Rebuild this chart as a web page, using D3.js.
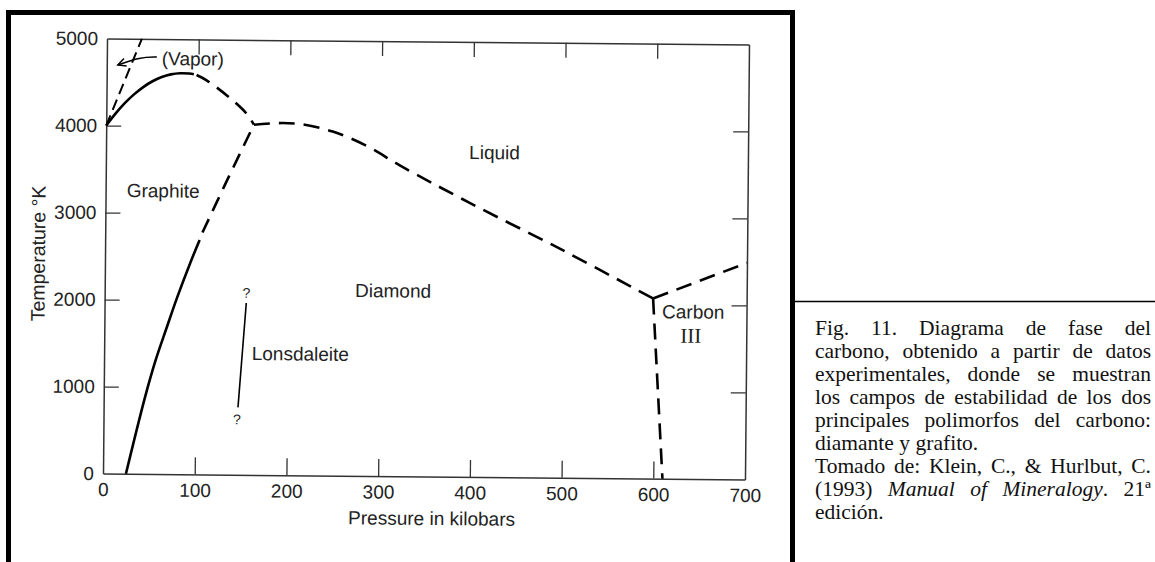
<!DOCTYPE html>
<html>
<head>
<meta charset="utf-8">
<script src="https://cdn.jsdelivr.net/npm/d3@7"></script>
<style>
  body { margin: 0; background: #fff; }
  svg { display: block; }
  .plot text { font-family: "Liberation Sans", Arial, sans-serif; fill: #222; }
  .caption text { font-family: "Liberation Serif", "Times New Roman", serif; font-size: 21.5px; fill: #111; }
</style>
</head>
<body>
<div id="chart"></div>
<script>
// Axis ticks
const xTicks = [0, 100, 200, 300, 400, 500, 600, 700];
const yTicks = [0, 1000, 2000, 3000, 4000, 5000];
const xInnerTicks = [100, 200, 300, 400, 500, 600];
const yInnerTicks = [1000, 2000, 3000, 4000];

// Phase boundaries as [pressure (kbar), temperature (K)]
const vaporBoundary = [[0, 4000], [38, 5000]];
const graphiteLiquid = [[0, 4000], [10, 4138], [20, 4259], [30, 4361], [40, 4446], [50, 4514], [60, 4563], [70, 4595], [80, 4609], [90, 4606], [95, 4598]];
const graphiteLiquidInferred = [[98, 4590], [109, 4530], [134, 4335], [153, 4150], [161, 4025]];
const graphiteDiamond = [[25, 0], [45, 880], [56, 1300], [68, 1685], [79, 2030], [93, 2430], [103, 2695]];
const graphiteDiamondInferred = [[106, 2780], [130, 3330], [161, 4025]];
const diamondLiquid = [[161, 4025], [186, 4046], [211, 4038], [247, 3955], [285, 3790], [321, 3570], [397, 3150], [500, 2610], [598, 2070]];
const diamondCarbonIII = [[598, 2070], [610, 0]];
const liquidCarbonIII = [[598, 2070], [700, 2490]];
const lonsdaleiteLine = [[154.5, 1975], [146.5, 775]];
const vaporArrow = [[54.5, 4793], [36, 4790], [12, 4697]];

// Field labels as [text, pressure, temperature]
const fieldLabels = [
  ["(Vapor)", 60, 4700],
  ["Graphite", 23, 3180],
  ["Liquid", 396, 3655],
  ["Diamond", 273, 2055],
  ["Lonsdaleite", 161, 1320],
  ["Carbon", 608, 1845]
];
const questionMarks = [[154.5, 2090], [145.6, 636]];
const carbonIIINumeral = ["III", 628, 1565];

// Caption, *word* = italic
const captionLines = [
  "Fig. 11. Diagrama de fase del",
  "carbono, obtenido a partir de datos",
  "experimentales, donde se muestran",
  "los campos de estabilidad de los dos",
  "principales polimorfos del carbono:",
  "diamante y grafito.",
  "Tomado de: Klein, C., & Hurlbut, C.",
  "(1993) *Manual* *of* *Mineralogy*. 21ª",
  "edición."
];
const captionRaggedLines = [5, 8];

const svg = d3.select("#chart").append("svg")
  .attr("width", 1155)
  .attr("height", 562);

// Scales
const x = d3.scaleLinear().domain([0, 700]).range([105, 747]);
const y = d3.scaleLinear().domain([0, 5000]).range([476.5, 41.5]);

// The scanned figure is tilted a little
const plot = svg.append("g")
  .attr("class", "plot")
  .attr("transform", "rotate(0.53, 426, 259)");

const axisColor = "#333";

function styleAxis(g) {
  g.attr("color", axisColor).attr("font-size", 19).attr("font-family", "Liberation Sans, Arial, sans-serif");
  g.select(".domain").attr("stroke-width", 1.5);
  g.selectAll(".tick line").attr("stroke-width", 1.3);
}

// Bottom axis
plot.append("g")
  .attr("transform", `translate(0,${y(0)})`)
  .call(d3.axisBottom(x).tickValues(xTicks).tickFormat(d3.format("d"))
    .tickSize(-17).tickSizeOuter(0).tickPadding(9))
  .call(styleAxis)
  .call(g => g.selectAll(".tick").filter(d => d === 0 || d === 700).select("line").remove());

// Left axis
plot.append("g")
  .attr("transform", `translate(${x(0)},0)`)
  .call(d3.axisLeft(y).tickValues(yTicks).tickFormat(d3.format("d"))
    .tickSize(-15).tickSizeOuter(0).tickPadding(9))
  .call(styleAxis)
  .call(g => g.selectAll(".tick").filter(d => d === 0 || d === 5000).select("line").remove());

// Top axis
plot.append("g")
  .attr("transform", `translate(0,${y(5000)})`)
  .call(d3.axisTop(x).tickValues(xInnerTicks).tickSize(-15).tickSizeOuter(0).tickFormat(""))
  .call(styleAxis);

// Right axis
plot.append("g")
  .attr("transform", `translate(${x(700)},0)`)
  .call(d3.axisRight(y).tickValues(yInnerTicks).tickSize(-15).tickSizeOuter(0).tickFormat(""))
  .call(styleAxis);

// Axis titles
plot.append("text")
  .attr("transform", "translate(45,257) rotate(-90)")
  .attr("text-anchor", "middle")
  .attr("font-size", 19.5)
  .text("Temperature °K");

plot.append("text")
  .attr("x", 434)
  .attr("y", 525)
  .attr("text-anchor", "middle")
  .attr("font-size", 19)
  .text("Pressure in kilobars");

// Boundaries
const smooth = d3.line().x(d => x(d[0])).y(d => y(d[1])).curve(d3.curveCatmullRom.alpha(0.5));
const straight = d3.line().x(d => x(d[0])).y(d => y(d[1]));

function boundary(data, gen, width, dash) {
  plot.append("path")
    .datum(data)
    .attr("d", gen)
    .attr("fill", "none")
    .attr("stroke", "#000")
    .attr("stroke-width", width)
    .attr("stroke-dasharray", dash);
}

boundary(vaporBoundary, straight, 2, "11 6");
boundary(graphiteLiquid, smooth, 2.6, null);
boundary(graphiteLiquidInferred, smooth, 2.6, "15 9");
boundary(graphiteDiamond, smooth, 2.6, null);
boundary(graphiteDiamondInferred, smooth, 2.6, "15 9");
boundary(diamondLiquid, smooth, 2.6, "16 9");
boundary(diamondCarbonIII, straight, 2.6, "16 9");
boundary(liquidCarbonIII, straight, 2.6, "16 9");
boundary(lonsdaleiteLine, straight, 1.6, null);

// Arrow pointing at the vapor boundary
svg.append("defs").append("marker")
  .attr("id", "arrowhead")
  .attr("viewBox", "-10 -6 12 12")
  .attr("refX", 0)
  .attr("refY", 0)
  .attr("markerUnits", "userSpaceOnUse")
  .attr("markerWidth", 12)
  .attr("markerHeight", 12)
  .attr("orient", "auto")
  .append("path")
    .attr("d", "M-8,-4 L0,0 L-8,4")
    .attr("fill", "none")
    .attr("stroke", "#000")
    .attr("stroke-width", 1.5);

plot.append("path")
  .datum(vaporArrow)
  .attr("d", d3.line().x(d => x(d[0])).y(d => y(d[1])).curve(d3.curveBasis))
  .attr("fill", "none")
  .attr("stroke", "#000")
  .attr("stroke-width", 1.5)
  .attr("marker-end", "url(#arrowhead)");

// Field labels
plot.selectAll(".field")
  .data(fieldLabels)
  .join("text")
    .attr("class", "field")
    .attr("x", d => x(d[1]))
    .attr("y", d => y(d[2]))
    .attr("font-size", 19)
    .text(d => d[0]);

plot.append("text")
  .attr("x", x(carbonIIINumeral[1]))
  .attr("y", y(carbonIIINumeral[2]))
  .attr("font-size", 21)
  .style("font-family", "Liberation Serif, serif")
  .text(carbonIIINumeral[0]);

plot.selectAll(".qmark")
  .data(questionMarks)
  .join("text")
    .attr("class", "qmark")
    .attr("x", d => x(d[0]))
    .attr("y", d => y(d[1]))
    .attr("text-anchor", "middle")
    .attr("dy", "0.35em")
    .attr("font-size", 14)
    .text("?");

// Frame and caption box
svg.append("path")
  .attr("d", "M8.5,562 V12.5 H792.5 V562")
  .attr("fill", "none")
  .attr("stroke", "#000")
  .attr("stroke-width", 5);

svg.append("line")
  .attr("x1", 795).attr("x2", 1155)
  .attr("y1", 301.5).attr("y2", 301.5)
  .attr("stroke", "#000")
  .attr("stroke-width", 1.5);

// Caption, justified
const caption = svg.append("g").attr("class", "caption");
const capLeft = 815, capRight = 1151, capTop = 335, capStep = 23;

captionLines.forEach((line, i) => {
  const words = line.split(" ");
  const nodes = words.map(w => {
    const t = caption.append("text").attr("y", capTop + i * capStep);
    w.split("*").forEach((run, k) => {
      if (run === "") return;
      t.append("tspan").attr("font-style", k % 2 ? "italic" : "normal").text(run);
    });
    return t;
  });
  const widths = nodes.map(t => t.node().getComputedTextLength());
  const total = d3.sum(widths);
  const gap = captionRaggedLines.includes(i) || words.length < 2
    ? 5.5
    : (capRight - capLeft - total) / (words.length - 1);
  let pos = capLeft;
  nodes.forEach((t, k) => {
    t.attr("x", pos);
    pos += widths[k] + gap;
  });
});
</script>
</body>
</html>
